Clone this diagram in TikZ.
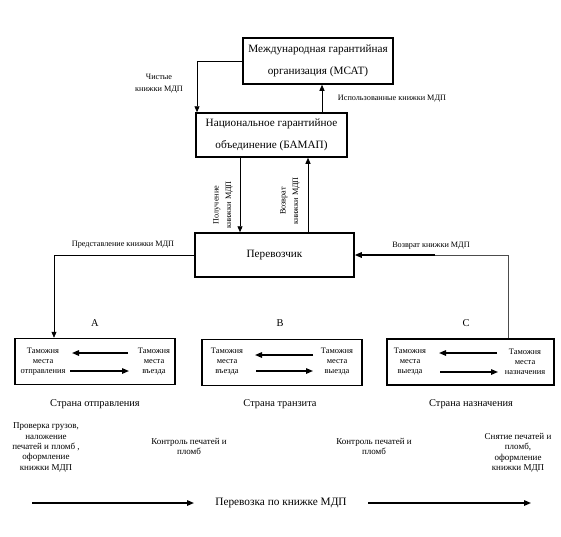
\documentclass[tikz,border=0pt]{standalone}
\usepackage{fontspec}
\setmainfont{Liberation Serif}
\usetikzlibrary{arrows.meta}
\begin{document}
\begin{tikzpicture}[x=1pt,y=-1pt,
  mainbox/.style={draw,line width=1.5pt,inner sep=0pt,align=center,font=\fontsize{11.2}{22.5}\selectfont},
  cbox/.style={draw,line width=1.5pt,inner sep=0pt,minimum height=46pt},
  inner/.style={align=center,inner sep=0pt,font=\fontsize{8.4}{10}\selectfont},
  lbl/.style={inner sep=0pt,align=center,font=\fontsize{8.2}{12.5}\selectfont},
  btxt/.style={inner sep=0pt,align=center,font=\fontsize{9}{10.3}\selectfont},
  ctry/.style={inner sep=0pt,font=\fontsize{10.4}{12}\selectfont},
  conn/.style={line width=0.9pt,-{Triangle[length=6pt,width=5pt]}},
  tarr/.style={line width=1.4pt,-{Triangle[length=7pt,width=5.5pt]}},
]
\useasboundingbox (0,0) rectangle (561,536);
% main boxes
\node[mainbox,minimum width=150pt,minimum height=46pt] (mgo) at (318,61) {Международная гарантийная\\организация (МСАТ)};
\node[mainbox,minimum width=151pt,minimum height=44pt] (ngo) at (271.5,135) {Национальное гарантийное\\объединение (БАМАП)};
\node[mainbox,minimum width=159pt,minimum height=44pt] (per) at (274.5,255) {Перевозчик};
% country boxes
\node[cbox,minimum width=160pt] (boxA) at (95,361.5) {};
\node[cbox,minimum width=160pt] (boxB) at (282,362.5) {};
\node[cbox,minimum width=167pt] (boxC) at (470.5,362) {};
% coordinates
\coordinate (cx1) at (197,0);
\coordinate (cx2) at (322,0);
\coordinate (cx3) at (240,0);
\coordinate (cx4) at (308,0);
\coordinate (cx5) at (54,0);
\coordinate (cx6) at (508,0);
\coordinate (rthick) at (435,255);
% connectors
\draw[conn] (mgo.west) -| (ngo.north -| cx1);
\draw[conn] (ngo.north -| cx2) -- (mgo.south -| cx2);
\draw[conn] (ngo.south -| cx3) -- (per.north -| cx3);
\draw[conn] (per.north -| cx4) -- (ngo.south -| cx4);
\draw[conn,line width=0.7pt] (per.west) -| (boxA.north -| cx5);
\draw[line width=0.7pt,black!70] (boxC.north -| cx6) |- (rthick);
\draw[tarr] (rthick) -- (per.east);
% connector labels
\node[lbl] (l1) at (159,83.5) {Чистые\\книжки МДП};
\node[lbl] (l2) at (392,99) {Использованные книжки МДП};
\node[lbl,rotate=90] (l3) at (223,205) {Получение\\книжки МДП};
\node[lbl,rotate=90] (l4) at (290,201) {Возврат\\книжки МДП};
\node[lbl] (l5) at (123,245) {Представление книжки МДП};
\node[lbl] (l6) at (431,246) {Возврат книжки МДП};
% letters
\node[ctry] (la) at (95,323) {A};
\node[ctry] (lb) at (280,323) {B};
\node[ctry] (lc) at (466,323) {C};
% box A
\node[inner] (a1) at (43,362) {Таможня\\места\\отправления};
\node[inner] (a2) at (154,362) {Таможня\\места\\въезда};
\coordinate (a3) at (128,353); \coordinate (a4) at (72,353);
\coordinate (a5) at (70,371); \coordinate (a6) at (129,371);
\draw[tarr] (a3) -- (a4);
\draw[tarr] (a5) -- (a6);
% box B
\node[inner] (b1) at (227,362) {Таможня\\места\\въезда};
\node[inner] (b2) at (337,362) {Таможня\\места\\выезда};
\coordinate (b3) at (313,355); \coordinate (b4) at (255,355);
\coordinate (b5) at (256,371); \coordinate (b6) at (313,371);
\draw[tarr] (b3) -- (b4);
\draw[tarr] (b5) -- (b6);
% box C
\node[inner] (c1) at (410,362) {Таможня\\места\\выезда};
\node[inner] (c2) at (525,362) {Таможня\\места\\назначения};
\coordinate (c3) at (497,353); \coordinate (c4) at (439,353);
\coordinate (c5) at (440,372); \coordinate (c6) at (498,372);
\draw[tarr] (c3) -- (c4);
\draw[tarr] (c5) -- (c6);
% countries
\node[ctry] (sa) at (95,404) {Страна отправления};
\node[ctry] (sb) at (280,404) {Страна транзита};
\node[ctry] (sc) at (471,404) {Страна назначения};
% bottom texts
\node[btxt] (t1) at (46,447.5) {Проверка грузов,\\наложение\\печатей и пломб ,\\оформление\\книжки МДП};
\node[btxt] (t2) at (189,446.5) {Контроль печатей и\\пломб};
\node[btxt] (t3) at (374,446.5) {Контроль печатей и\\пломб};
\node[btxt] (t4) at (518,453) {Снятие печатей и\\пломб,\\оформление\\книжки МДП};
% bottom line
\node[ctry,font=\fontsize{11.3}{12}\selectfont] (pk) at (281,503) {Перевозка по книжке МДП};
\coordinate (d1) at (32,503); \coordinate (d2) at (194,503);
\coordinate (d3) at (368,503); \coordinate (d4) at (531,503);
\draw[tarr] (d1) -- (d2);
\draw[tarr] (d3) -- (d4);
\end{tikzpicture}
\end{document}
